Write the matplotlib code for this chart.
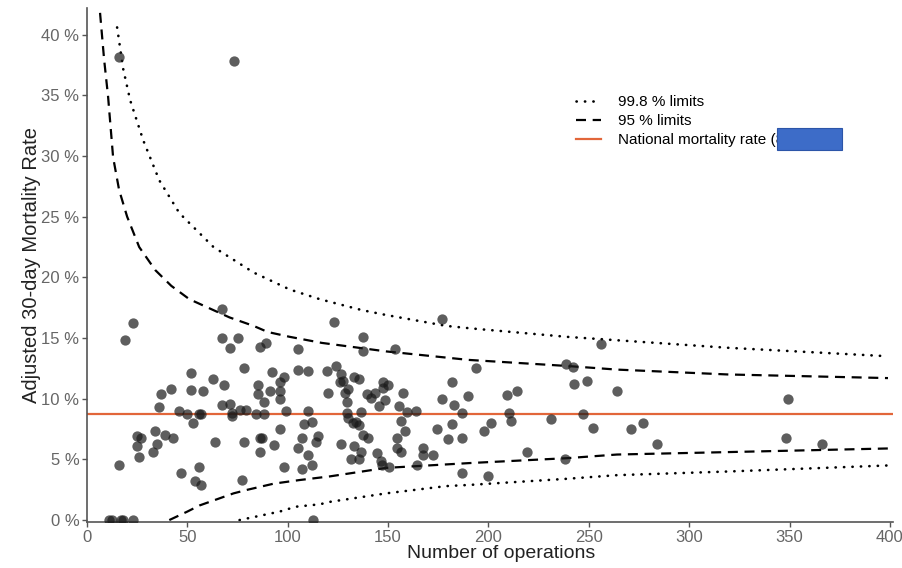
import numpy as np
import matplotlib.pyplot as plt
from matplotlib.lines import Line2D
from matplotlib.patches import Rectangle
from matplotlib.ticker import FuncFormatter

plt.rcParams['font.family'] = ['Liberation Sans', 'DejaVu Sans']

# hospitals: number of operations and adjusted 30-day mortality (%)
operations = [
    11, 12.5, 17, 18, 23, 112.6, 16, 73, 23, 19, 16, 25, 27, 25, 26, 33, 34, 35, 39, 43,
    36, 37, 42, 46, 47, 50, 52, 52, 53, 54, 56, 56, 57, 57, 58, 63, 64, 67, 67, 67,
    68, 71, 71, 72, 72, 75, 76, 77, 78, 78, 79, 84, 85, 85, 86, 86, 86, 87, 88, 88,
    89, 91, 92, 93, 96, 98, 96, 96, 96, 98, 99, 105, 105, 105, 107, 107, 108, 110, 110, 110,
    112, 112, 115, 114, 119.5, 120, 123, 124, 126.5, 127.5, 126, 126.5, 129.5, 130, 128.5, 129.5, 130, 132.5, 134, 135.5,
    133, 133, 135.5, 131.5, 135.5, 136.5, 136.5, 137.5, 137.5, 137.5, 140, 139.5, 141.5, 143.5, 144.5, 145.5, 146.5, 147, 147.5, 150,
    147.5, 148.5, 150.5, 153.5, 154.5, 154.5, 155.5, 156.5, 156.5, 157.5, 158.5, 159.5, 164, 164.5, 167.5, 167.5, 172.5, 174.5, 177, 177,
    180, 182, 182, 183, 187, 187, 187, 190, 194, 198, 201, 200, 209, 214, 210, 211, 219, 231, 238, 238.5,
    242, 242.5, 249, 247, 252, 256, 264, 271, 277, 284, 349, 348, 366,
]
mortality = [
    0, 0, 0, 0, 0, 0, 38.2, 37.8, 16.2, 14.8, 4.5, 6.9, 6.8, 6.1, 5.2, 5.6, 7.3, 6.3, 7.0, 6.8,
    9.3, 10.4, 10.8, 9.0, 3.9, 8.7, 10.7, 12.1, 8.0, 3.2, 4.4, 8.7, 8.7, 2.9, 10.6, 11.6, 6.4, 9.5, 17.4, 15.0,
    11.1, 14.2, 9.6, 8.8, 8.6, 15.0, 9.1, 3.3, 12.5, 6.4, 9.1, 8.7, 11.1, 10.4, 14.3, 5.6, 6.8, 6.8, 9.7, 8.7,
    14.6, 10.6, 12.2, 6.2, 11.4, 11.8, 10.6, 10.0, 7.5, 4.4, 9.0, 14.1, 12.4, 5.9, 6.8, 4.2, 7.9, 12.3, 9.0, 5.4,
    8.1, 4.5, 6.9, 6.4, 12.3, 10.5, 16.3, 12.7, 12.0, 11.5, 11.4, 6.3, 9.7, 10.8, 10.5, 8.8, 8.4, 8.0, 8.1, 7.8,
    6.1, 11.8, 11.6, 5.0, 5.0, 8.9, 5.6, 15.1, 13.9, 7.0, 6.8, 10.4, 10.1, 10.5, 5.5, 9.4, 4.9, 4.5, 11.4, 11.1,
    10.9, 9.9, 4.4, 14.1, 6.8, 5.9, 9.4, 5.6, 8.2, 10.5, 7.3, 8.9, 9.0, 4.5, 5.9, 5.4, 5.4, 7.5, 16.6, 10.0,
    6.7, 7.9, 11.4, 9.5, 8.8, 6.8, 3.9, 10.2, 12.5, 7.3, 8.0, 3.6, 10.3, 10.6, 8.8, 8.2, 5.6, 8.3, 5.0, 12.9,
    12.6, 11.2, 11.5, 8.7, 7.6, 14.5, 10.6, 7.5, 8.0, 6.3, 10.0, 6.8, 6.3,
]

national_rate = 8.7

# funnel limits (n, %)
upper95_n = [6.5, 8.5, 10.5, 13, 16, 20, 26, 34, 42, 51, 63, 71, 83, 90, 101, 117, 149, 190, 239, 264, 319, 399]
upper95 = [41.8, 38.0, 34.9, 29.9, 27.2, 25.0, 22.5, 20.6, 19.3, 18.2, 17.3, 16.7, 16.0, 15.5, 15.1, 14.6, 13.9, 13.2, 12.7, 12.4, 12.0, 11.7]
lower95_n = [41, 50, 56, 73, 80, 93, 106, 121, 149, 191, 239, 264, 319, 399]
lower95 = [0.0, 0.7, 1.2, 2.2, 2.5, 3.0, 3.3, 3.6, 4.3, 4.7, 5.1, 5.4, 5.6, 5.9]
upper998_n = [15, 18, 21.5, 28, 36, 46, 63, 83, 101, 116, 137, 149, 179, 191, 239, 319, 399]
upper998 = [40.6, 37.2, 34.6, 31.3, 28.0, 25.3, 22.5, 20.4, 19.0, 18.2, 17.3, 16.9, 16.0, 15.8, 15.1, 14.2, 13.5]
lower998_n = [76, 96, 104, 116, 121, 137, 149, 179, 191, 239, 264, 319, 399]
lower998 = [0.0, 0.7, 1.1, 1.3, 1.5, 1.9, 2.2, 2.8, 2.9, 3.4, 3.7, 4.0, 4.5]

fig = plt.figure(figsize=(9.02, 5.68), dpi=100)
ax = fig.add_axes([87 / 902, 46 / 568, 806 / 902, 514 / 568])

dot_style = dict(color="black", linestyle=(0, (0.1, 3.1)), linewidth=1.9, dash_capstyle="round")
dash_style = dict(color="black", linestyle=(0, (4.5, 3)), linewidth=1.6)
nat_color = "#e2663a"

ax.plot(upper998_n, upper998, **dot_style)
ax.plot(lower998_n, lower998, **dot_style)
ax.plot(upper95_n, upper95, **dash_style)
ax.plot(lower95_n, lower95, **dash_style)
ax.axhline(national_rate, color=nat_color, linewidth=1.6, zorder=2)

ax.scatter(operations, mortality, s=55, color="#1a1a1a", alpha=0.7, linewidths=0, zorder=3)

ax.set_xlim(0, 401.5)
ax.set_ylim(-0.16, 42.2)
ax.set_xticks([0, 50, 100, 150, 200, 250, 300, 350, 400])
ax.set_yticks([0, 5, 10, 15, 20, 25, 30, 35, 40])
ax.yaxis.set_major_formatter(FuncFormatter(lambda v, p: "{} %".format(int(v))))

for side in ["top", "right"]:
    ax.spines[side].set_visible(False)
for side in ["left", "bottom"]:
    ax.spines[side].set_color("#555555")
    ax.spines[side].set_linewidth(1.2)
ax.tick_params(colors="#555555", labelsize=12, length=3.5, width=1.0, pad=2)
for lab in ax.get_xticklabels() + ax.get_yticklabels():
    lab.set_color("#666666")

ax.set_xlabel("Number of operations", fontsize=14, color="#222222", labelpad=1)
ax.xaxis.set_label_coords(0.514, -0.045)
ax.set_ylabel("Adjusted 30-day Mortality Rate", fontsize=14.5, color="#222222")
ax.yaxis.set_label_coords(-0.057, 0.5)

handles = [
    Line2D([], [], **dot_style),
    Line2D([], [], **dash_style),
    Line2D([], [], color=nat_color, linewidth=1.6),
]
labels = ["99.8 % limits", "95 % limits", "National mortality rate (8.7 %)"]
ax.legend(handles, labels, loc="upper left", bbox_to_anchor=(0.607, 0.830), frameon=False,
          fontsize=11, handlelength=1.6, handletextpad=1.15, labelspacing=0.33, borderpad=0,
          borderaxespad=0)

# redaction box over the rate value, as in the source image
fig.patches.append(Rectangle((777 / 902, 418 / 568), 65 / 902, 22 / 568, transform=fig.transFigure,
                             facecolor="#3d6cc8", edgecolor="#2c55a8", linewidth=0.8, zorder=10))

fig.savefig("out.png", dpi=100)
